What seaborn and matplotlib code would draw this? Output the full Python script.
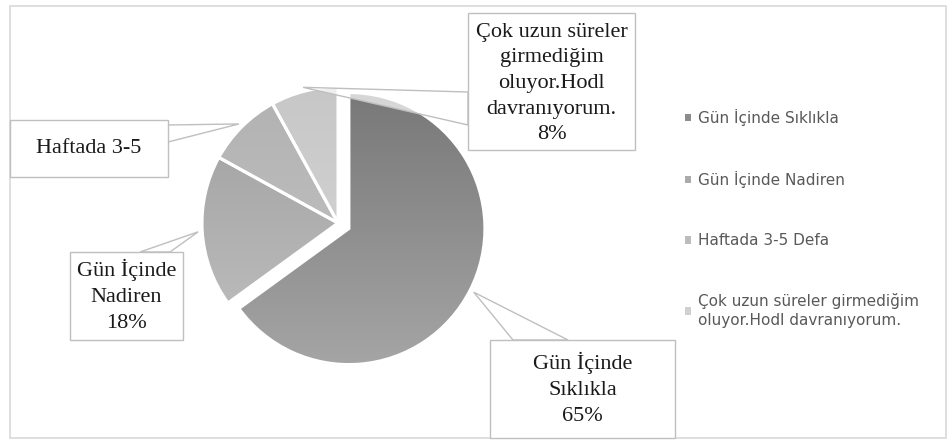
import numpy as np
import matplotlib
matplotlib.use("Agg")
import matplotlib.pyplot as plt
import seaborn as sns
from matplotlib.patches import Rectangle, Polygon, Patch
from matplotlib.colors import LinearSegmentedColormap

# ---- data ----
categories = ["Gün İçinde Sıklıkla", "Gün İçinde Nadiren", "Haftada 3-5 Defa",
              "Çok uzun süreler girmediğim\noluyor.Hodl davranıyorum."]
values = [65, 18, 9, 8]
callout_labels = ["Gün İçinde\nSıklıkla\n65%", "Gün İçinde\nNadiren\n18%", "Haftada 3-5",
                  "Çok uzun süreler\ngirmediğim\noluyor.Hodl\ndavranıyorum.\n8%"]
explode_frac = [0.09, 0, 0, 0]
top_colors = ["#747474", "#9c9c9c", "#b0b0b0", "#c6c6c6"]
bottom_colors = ["#a9a9a9", "#c4c4c4", "#c8c8c8", "#dadada"]
mid_colors = ["#8c8c8c", "#aaaaaa", "#bcbcbc", "#d0d0d0"]

sns.set_theme(style="white")
plt.rcParams["font.family"] = ["Liberation Serif", "DejaVu Serif"]

W, H = 947, 441
fig = plt.figure(figsize=(W / 100, H / 100), dpi=100)
ax = fig.add_axes([0, 0, 1, 1])

cx, cy, r = 338, H - 223, 136
wedges, _ = ax.pie(values, explode=[e * r for e in explode_frac], startangle=90,
                   counterclock=False, center=(cx, cy), radius=r, colors=mid_colors,
                   wedgeprops=dict(edgecolor="white", linewidth=2.2), frame=True)

# gradient fill per slice
grad = np.linspace(0, 1, 256).reshape(-1, 1)
for w, ct, cb in zip(wedges, top_colors, bottom_colors):
    cmap = LinearSegmentedColormap.from_list("g", [ct, cb])
    im = ax.imshow(grad, cmap=cmap, aspect="auto", origin="upper",
                   extent=(cx - r - 30, cx + r + 40, cy - r - 30, cy + r + 20),
                   zorder=1, interpolation="bilinear")
    im.set_clip_path(w)
    w.set_facecolor("none")
    w.set_zorder(3)

# callouts
bases = [[(513, 340), (568, 340)], [(140, 252), (170, 252)],
         [(168, 125), (168, 142)], [(468, 92), (468, 125)]]
boxes = [(490, 340, 675, 438), (70, 252, 183, 340), (10, 120, 168, 177), (468, 13, 635, 150)]
text_dy = [0, 0, 0, 2]
for w, base, box, lab, dy in zip(wedges, bases, boxes, callout_labels, text_dy):
    tm = np.deg2rad((w.theta1 + w.theta2) / 2)
    ccx, ccy = w.center
    apex = (ccx + 1.03 * w.r * np.cos(tm), ccy + 1.03 * w.r * np.sin(tm))
    pts = [apex] + [(bx, H - by) for bx, by in base]
    ax.add_patch(Polygon(pts, closed=True, facecolor=(1, 1, 1, 0.7),
                         edgecolor="#bfbfbf", lw=1, zorder=4))
    x0, y0, x1, y1 = box
    ax.add_patch(Rectangle((x0, H - y1), x1 - x0, y1 - y0, facecolor="white",
                           edgecolor="#bfbfbf", lw=1, zorder=5))
    ax.text((x0 + x1) / 2, H - (y0 + y1) / 2 - dy, lab, ha="center", va="center",
            fontsize=16, color="#1a1a1a", linespacing=1.47, zorder=6)

# chart border
ax.add_patch(Rectangle((10, H - 438), 936, 432, facecolor="none",
                       edgecolor="#d9d9d9", lw=1.2, zorder=0))

handles = [Patch(facecolor=c, edgecolor="none") for c in mid_colors]
leg = ax.legend(handles, categories, loc="upper left",
                bbox_to_anchor=(685 / W, (H - 109) / H), frameon=False,
                prop=dict(family="DejaVu Sans", size=11), labelcolor="#595959",
                handlelength=0.4, handleheight=0.4, handletextpad=0.45,
                labelspacing=2.95, borderaxespad=0, borderpad=0)
leg.get_texts()[3].set_linespacing(1.3)

ax.set_xlim(0, W)
ax.set_ylim(0, H)
ax.set_aspect("equal")
ax.axis("off")
fig.savefig("out.png", dpi=100)
